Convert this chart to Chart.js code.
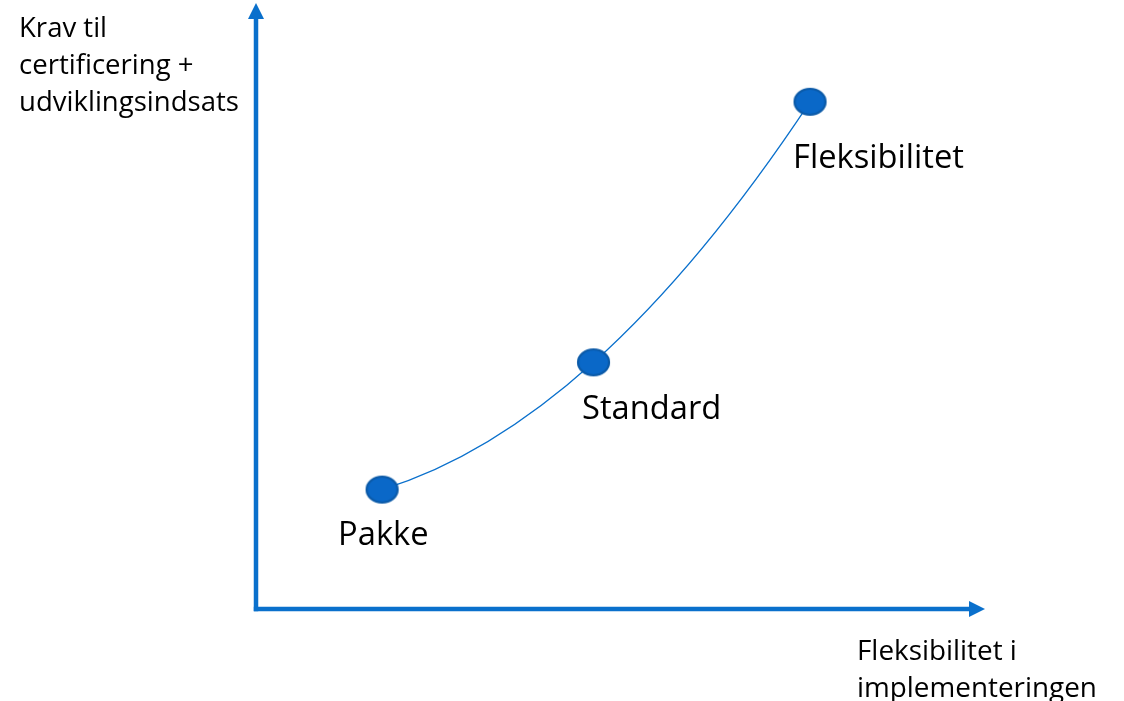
<!DOCTYPE html>
<html>
<head>
<meta charset="utf-8">
<script src="https://cdn.jsdelivr.net/npm/chart.js@4"></script>
<style>
html,body{margin:0;padding:0;background:#fff;}
canvas{display:block;}
</style>
</head>
<body>
<canvas id="c" width="1124" height="701"></canvas>
<script>
// Data (relative units)
const categories = ["Pakke", "Standard", "Fleksibilitet"];
const flexValues = [17.3, 46.3, 76.0];      // x: Fleksibilitet i implementeringen
const effortValues = [19.7, 40.7, 83.7];    // y: Krav til certificering + udviklingsindsats
const yAxisTitle = ["Krav til", "certificering +", "udviklingsindsats"];
const xAxisTitle = ["Fleksibilitet i", "implementeringen"];

const BLUE = '#0a70cc';
const FONT = '"Open Sans", Lato, sans-serif';

function ellipseMarker(w, h) {
  const cv = document.createElement('canvas');
  cv.width = w + 4; cv.height = h + 4;
  const g = cv.getContext('2d');
  g.beginPath();
  g.ellipse(cv.width / 2, cv.height / 2, w / 2, h / 2, 0, 0, Math.PI * 2);
  g.fillStyle = '#0a68c8';
  g.fill();
  g.lineWidth = 2.2;
  g.strokeStyle = '#0b5aa8';
  g.stroke();
  return cv;
}
const marker = ellipseMarker(31, 26);

const points = categories.map((c, i) => ({ x: flexValues[i], y: effortValues[i] }));

function fitSize(ctx, text, width) {
  ctx.font = '100px ' + FONT;
  return 100 * width / ctx.measureText(text).width;
}

// smooth convex curve: Hermite control points using quadratic (Lagrange) slopes
function slopeAt(pts, i) {
  const n = pts.length;
  if (n < 3) return (pts[n - 1].y - pts[0].y) / (pts[n - 1].x - pts[0].x);
  const k = Math.min(Math.max(i - 1, 0), n - 3);
  const [a, b, c] = [pts[k], pts[k + 1], pts[k + 2]];
  const x = pts[i].x;
  return a.y * (2 * x - b.x - c.x) / ((a.x - b.x) * (a.x - c.x)) +
         b.y * (2 * x - a.x - c.x) / ((b.x - a.x) * (b.x - c.x)) +
         c.y * (2 * x - a.x - b.x) / ((c.x - a.x) * (c.x - b.x));
}
const smoothCurve = {
  id: 'smoothCurve',
  beforeDatasetsDraw(chart) {
    const meta = chart.getDatasetMeta(0);
    const line = meta.dataset;
    line.updateControlPoints(chart.chartArea, 'x');
    const pts = meta.data;
    const m = pts.map((p, i) => slopeAt(pts, i));
    pts.forEach((p, i) => {
      if (i > 0) {
        const d = (p.x - pts[i - 1].x) / 3;
        p.cp1x = p.x - d; p.cp1y = p.y - d * m[i];
      }
      if (i < pts.length - 1) {
        const d = (pts[i + 1].x - p.x) / 3;
        p.cp2x = p.x + d; p.cp2y = p.y + d * m[i];
      }
    });
    line._path = undefined;
  }
};

const decor = {
  id: 'decor',
  afterDraw(chart) {
    const ctx = chart.ctx;
    const a = chart.chartArea;
    const x0 = a.left, y0 = a.bottom;
    ctx.save();
    ctx.strokeStyle = BLUE;
    ctx.fillStyle = BLUE;
    ctx.lineWidth = 4.5;
    ctx.lineCap = 'butt';
    ctx.beginPath();
    ctx.moveTo(x0, y0 + 2.2);
    ctx.lineTo(x0, a.top + 14);
    ctx.stroke();
    ctx.beginPath();
    ctx.moveTo(x0, a.top);
    ctx.lineTo(x0 - 8, a.top + 16);
    ctx.lineTo(x0 + 8, a.top + 16);
    ctx.closePath();
    ctx.fill();
    ctx.beginPath();
    ctx.moveTo(x0 - 2.2, y0);
    ctx.lineTo(a.right - 14, y0);
    ctx.stroke();
    ctx.beginPath();
    ctx.moveTo(a.right, y0);
    ctx.lineTo(a.right - 16, y0 - 8);
    ctx.lineTo(a.right - 16, y0 + 8);
    ctx.closePath();
    ctx.fill();

    ctx.fillStyle = '#000';
    ctx.textAlign = 'left';
    ctx.textBaseline = 'alphabetic';
    let s = fitSize(ctx, yAxisTitle[2], 220);
    ctx.font = s + 'px ' + FONT;
    yAxisTitle.forEach((t, i) => ctx.fillText(t, 19, 37 + i * 37));
    s = fitSize(ctx, xAxisTitle[1], 240);
    ctx.font = s + 'px ' + FONT;
    xAxisTitle.forEach((t, i) => ctx.fillText(t, 857, 660 + i * 37));

    const meta = chart.getDatasetMeta(0);
    s = fitSize(ctx, categories[2], 171);
    ctx.font = s + 'px ' + FONT;
    const offs = [[-44, 55.5], [-11.5, 56.5], [-17, 66]];
    meta.data.forEach((el, i) => {
      ctx.fillText(categories[i], el.x + offs[i][0], el.y + offs[i][1]);
    });
    ctx.restore();
  }
};

new Chart(document.getElementById('c'), {
  type: 'scatter',
  data: {
    datasets: [{
      data: points,
      showLine: true,
      borderColor: BLUE,
      borderWidth: 1.3,
      tension: 0.4,
      pointStyle: marker,
      pointRadius: 14,
      pointHoverRadius: 14
    }]
  },
  options: {
    responsive: false,
    animation: false,
    events: [],
    layout: { autoPadding: false, padding: { left: 256, right: 139, top: 3, bottom: 92 } },
    plugins: { legend: { display: false }, tooltip: { enabled: false } },
    scales: {
      x: { type: 'linear', min: 0, max: 100, display: false },
      y: { type: 'linear', min: 0, max: 100, display: false }
    }
  },
  plugins: [smoothCurve, decor]
});
</script>
</body>
</html>
